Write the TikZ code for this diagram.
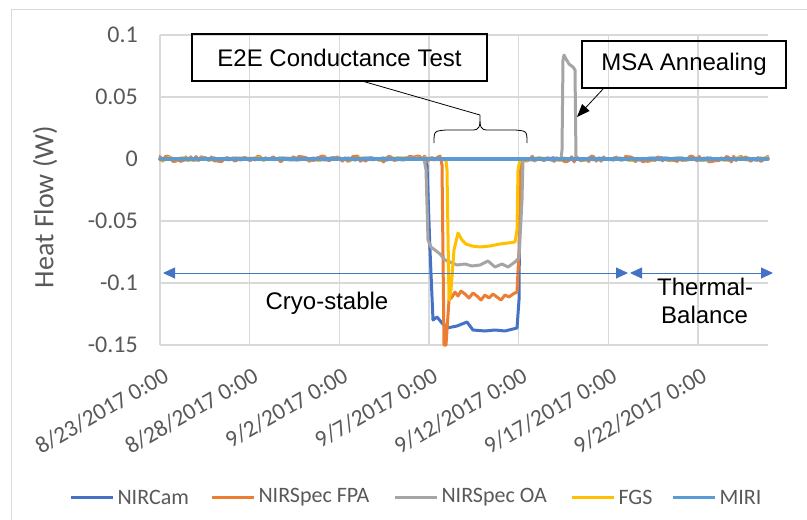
\documentclass[tikz,border=0pt]{standalone}
\usepackage{fontspec}
\setmainfont{Carlito}
\newfontfamily\arialfont{Liberation Sans}
\usepackage{xcolor}
\usepackage{tikz}
\usetikzlibrary{positioning, arrows.meta}

\definecolor{camblue}{HTML}{4472C4}
\definecolor{fpaorange}{HTML}{ED7D31}
\definecolor{oagray}{HTML}{A5A5A5}
\definecolor{fgsyellow}{HTML}{FFC000}
\definecolor{miriblue}{HTML}{5B9BD5}
\definecolor{gridgray}{HTML}{D9D9D9}
\definecolor{ticktext}{HTML}{595959}

\begin{document}
\begin{tikzpicture}[x=1pt, y=-1pt,
  gridline/.style={line width=1.3pt, gridgray},
  series/.style={line width=3pt, line join=round, line cap=round},
  ticklabel/.style={text=ticktext, inner sep=0pt, font=\fontsize{24}{28}\selectfont},
  datelabel/.style={text=ticktext, inner sep=0pt, rotate=30, anchor=north east, font=\fontsize{23.5}{27}\selectfont},
  legendtext/.style={text=ticktext, inner sep=3pt, anchor=west, font=\fontsize{22}{26}\selectfont},
  notebox/.style={draw=black, line width=1.4pt, minimum height=47pt, inner sep=0pt, font=\arialfont\fontsize{24}{28}\selectfont},
  notetext/.style={inner sep=0pt, font=\arialfont\fontsize{24}{28}\selectfont},
  phasearrow/.style={camblue, line width=0.9pt, {Triangle[length=12pt,width=11pt]}-{Triangle[length=12pt,width=11pt]}}
]
\useasboundingbox (0,0) rectangle (807,520);
\pgfmathsetseed{11}

% chart frame
\draw[gridgray, line width=1pt] (11,520) -- (11,9) -- (807,9);

% grid
\foreach \y in {35,97,159,221,283,345}
  \draw[gridline] (160,\y) -- (768,\y);
\foreach \i in {0,...,6}
  \draw[gridline] ({160+89.67*\i},35) -- ({160+89.67*\i},345);

% value axis
\foreach \v [count=\k from 0] in {0.1,0.05,0,-0.05,-0.1,-0.15}
  \node[ticklabel, anchor=east] (ytick\k) at (138,{35+62*\k}) {\v};
\node[ticklabel, rotate=90, font=\fontsize{28}{32}\selectfont] (ytitle) at (45,207) {Heat Flow (W)};

% date axis
\foreach \d [count=\i from 0] in {{8/23/2017 0:00},{8/28/2017 0:00},{9/2/2017 0:00},{9/7/2017 0:00},{9/12/2017 0:00},{9/17/2017 0:00},{9/22/2017 0:00}}
  \node[datelabel] (date\i) at ({162+89.67*\i},366) {\d};

% NIRCam
\draw[series, camblue] plot[domain=160:425, samples=70] (\x,{159+1.2*rand})
  -- (427,165) -- (430,250) -- (433,320) -- (437,317) -- (442,323) -- (447,328)
  -- (457,326) -- (467,322) -- (473,330) -- (485,331) -- (495,330) -- (505,331)
  -- (517,328) -- (519,300) -- (520,159)
  -- plot[domain=521:768, samples=70] (\x,{159+1.2*rand});
% NIRSpec FPA
\draw[series, fpaorange] plot[domain=160:440, samples=110] (\x,{159+3*rand})
  -- (442,165) -- (444,345) -- (446,345) -- (449,300) -- (452,297) -- (455,292)
  -- (458,296) -- (461,291) -- (465,294) -- (469,298) -- (473,293) -- (477,296)
  -- (481,300) -- (485,295) -- (489,298) -- (493,294) -- (497,297) -- (501,300)
  -- (505,295) -- (509,297) -- (513,294) -- (517,292) -- (519,250) -- (521,165)
  -- (524,159) -- plot[domain=525:768, samples=100] (\x,{159+3*rand});
% NIRSpec OA
\draw[series, oagray] plot[domain=160:424, samples=70] (\x,{159+1.2*rand})
  -- (426,170) -- (428,240) -- (431,247) -- (435,250) -- (440,254) -- (445,260)
  -- (450,262) -- (457,265) -- (465,264) -- (472,266) -- (480,265) -- (488,261)
  -- (495,267) -- (502,264) -- (508,267) -- (515,262) -- (519,258) -- (522,200)
  -- (523,159) -- plot[domain=524:561, samples=12] (\x,{159+1.2*rand})
  -- (562,150) -- (563,60) -- (564,55) -- (566,59) -- (569,64) -- (573,67)
  -- (575,70) -- (576,159) -- plot[domain=577:768, samples=50] (\x,{159+1.2*rand});
% FGS
\draw[series, fgsyellow] plot[domain=160:446, samples=70] (\x,{159+1.5*rand})
  -- (447,170) -- (449,300) -- (451,290) -- (454,250) -- (458,233) -- (462,240)
  -- (466,244) -- (472,246) -- (480,247) -- (490,246) -- (500,244) -- (508,243)
  -- (515,242) -- (517,230) -- (518,170) -- (520,159)
  -- plot[domain=521:768, samples=70] (\x,{159+1.5*rand});
% MIRI
\draw[series, miriblue, line width=3.6pt] (160,159) -- (768,159);

% E2E test note
\node[notebox, minimum width=295pt] (e2ebox) at (339.5,57.5) {E2E Conductance Test};
\coordinate (e2efoot) at (362,81);
\coordinate (bracetip) at (480,115);
\coordinate (bracel) at (434,143);
\coordinate (bracer) at (527,143);
\draw[line width=0.8pt] (e2efoot) -- (bracetip);
\draw[line width=0.8pt] (bracel) .. controls (434,131) .. (446,130) -- (472,130)
  .. controls (480,130) and (480,127) .. (bracetip)
  .. controls (480,127) and (480,130) .. (488,130) -- (515,130)
  .. controls (527,131) .. (bracer);

% MSA note
\node[notebox, minimum width=204pt] (msabox) at (684,64.5) {MSA Annealing};
\coordinate (msafoot) at (604,88);
\coordinate (msatip) at (577,117);
\draw[line width=0.8pt, -{Triangle[length=13pt,width=10pt]}] (msafoot) -- (msatip);

% test phases
\coordinate (cryoL) at (163,273);
\coordinate (cryoR) at (628,273);
\coordinate (tbL) at (630,273);
\coordinate (tbR) at (773,273);
\draw[phasearrow] (cryoL) -- (cryoR);
\draw[phasearrow] (tbL) -- (tbR);
\node[notetext] (cryo) at (327,303) {Cryo-stable};
\node[notetext, anchor=west, align=left] (tbal) at (657,301) {Thermal-\\\hspace*{4pt}Balance};

% legend
\foreach \c/\t/\xa in {camblue/NIRCam/71, fpaorange/NIRSpec FPA/212, oagray/NIRSpec OA/395, fgsyellow/FGS/572, miriblue/MIRI/673}
  \draw[series, line cap=butt, \c] (\xa,497) -- ++(42,0) node[legendtext] (leg\xa) {\t};
\end{tikzpicture}
\end{document}
